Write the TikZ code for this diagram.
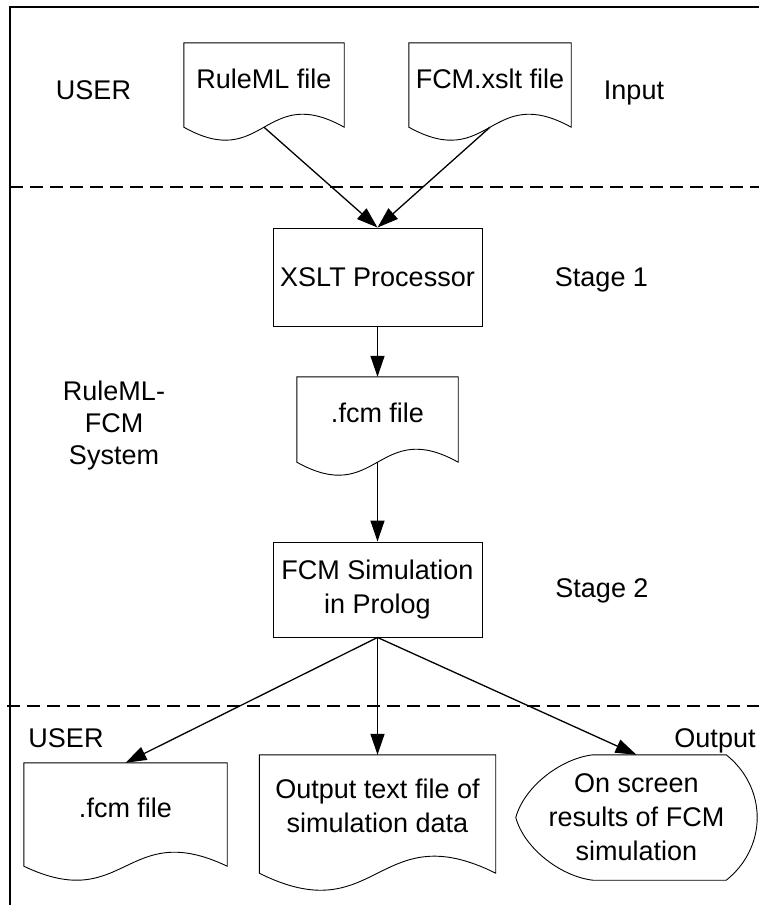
\documentclass[tikz,border=0pt]{standalone}
\usepackage{fontspec}
\setmainfont{Liberation Sans}
\usetikzlibrary{arrows.meta,calc}
\newcommand\docoutline[3]{%
  \draw[outline] (#1.north west) -- (#1.north east) -- ([yshift=-#2pt]#1.south east)
    .. controls ([yshift={-#2pt+#3pt}]#1.south) and ([yshift={-#2pt-#3pt}]#1.south) ..
    ([yshift=-#2pt]#1.south west) -- cycle;
  \coordinate (#1-w) at ([yshift=-#2pt]#1.south);
}
\begin{document}
\begin{tikzpicture}[x=1pt,y=-1pt,
  every node/.style={font=\fontsize{27}{34}\selectfont, inner sep=0pt},
  outline/.style={draw=black, line width=0.9pt},
  conn/.style={draw=black, line width=1.3pt, -{Triangle[length=21pt,width=14pt]}},
  sep/.style={draw=black, line width=1.2pt, dash pattern=on 13pt off 7pt},
  frameline/.style={draw=black, line width=1.2pt},
  box/.style={outline, rectangle, align=center},
  docarea/.style={rectangle, align=center},
]
\useasboundingbox (0,0) rectangle (759,905);

% frame and separators
\draw[frameline] (10,905) -- (10,7) -- (759,7);
\draw[sep] (10,187) -- (759,187);
\draw[sep] (7,706) -- (759,706);

% labels
\node[anchor=base] (user1) at (93.5,99) {USER};
\node[anchor=base] (input) at (634,99) {Input};
\node[anchor=base] (stage1) at (601.5,286) {Stage 1};
\node[anchor=base] (stage2) at (602,597) {Stage 2};
\node[align=center, font=\fontsize{27}{32}\selectfont] (system) at (114,426) {RuleML-\\FCM\\System};
\node[anchor=base] (user2) at (66,747) {USER};
\node[anchor=base] (output) at (715,747) {Output};

% shapes
\node[docarea, minimum width=160pt, minimum height=71pt] (ruleml) at (264,78.5) {RuleML file};
\docoutline{ruleml}{13}{45}
\node[docarea, minimum width=162pt, minimum height=71pt] (fcmx) at (490,78.5) {FCM.xslt file};
\docoutline{fcmx}{13}{45}
\node[box, minimum width=209pt, minimum height=98pt] (xslt) at (377.5,277) {XSLT Processor};
\node[docarea, minimum width=161pt, minimum height=72pt] (fcm1) at (377.5,413) {.fcm file};
\docoutline{fcm1}{13}{45}
\node[box, minimum width=209pt, minimum height=95pt] (sim) at (377.5,589.5) {FCM Simulation\\in Prolog};
\node[docarea, minimum width=203pt, minimum height=89pt] (fcm2) at (125.5,807.5) {.fcm file};
\docoutline{fcm2}{14}{48.5}
\node[docarea, minimum width=236pt, minimum height=101pt] (outtxt) at (377.5,805.5) {Output text file of\\simulation data};
\docoutline{outtxt}{17}{59}
\node[rectangle, align=center, minimum width=241pt, minimum height=125pt] (scr) at (636.5,817.5) {On screen\\results of FCM\\simulation};
\draw[outline] ([xshift=77pt]scr.north west) -- ([xshift=-31pt]scr.north east)
  .. controls ([xshift=-12pt,yshift=-15pt]scr.north east) and ([yshift=25pt]scr.east) .. (scr.east)
  .. controls ([yshift=-25pt]scr.east) and ([xshift=-12pt,yshift=15pt]scr.south east) .. ([xshift=-31pt]scr.south east)
  -- ([xshift=77pt]scr.south west)
  .. controls ([xshift=44pt,yshift=4pt]scr.south west) and ([xshift=8pt,yshift=-30pt]scr.west) .. (scr.west)
  .. controls ([xshift=8pt,yshift=30pt]scr.west) and ([xshift=44pt,yshift=-4pt]scr.north west) .. cycle;

% connectors
\draw[conn] (ruleml-w) -- (xslt.north);
\draw[conn] (fcmx-w) -- (xslt.north);
\draw[conn] (xslt.south) -- (fcm1.north);
\draw[conn] (fcm1-w) -- (sim.north);
\draw[conn] (sim.south) -- (fcm2.north);
\draw[conn] (sim.south) -- (outtxt.north);
\draw[conn] (sim.south) -- (scr.north);
\end{tikzpicture}
\end{document}
